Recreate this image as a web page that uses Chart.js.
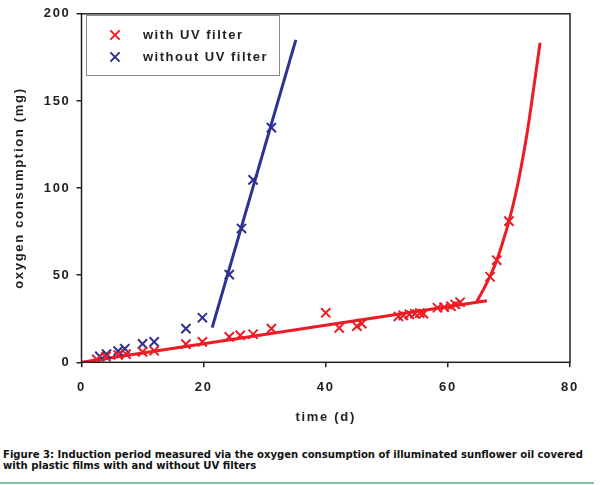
<!DOCTYPE html>
<html>
<head>
<meta charset="utf-8">
<script src="https://cdn.jsdelivr.net/npm/chart.js@4.4.0/dist/chart.umd.min.js"></script>
<style>
html,body{margin:0;padding:0;background:#fff;width:600px;height:485px;overflow:hidden;}
#wrap{position:absolute;left:0;top:0;width:600px;height:432px;}
#cap{position:absolute;left:3px;top:449px;width:597px;font-family:"DejaVu Sans Condensed","DejaVu Sans",sans-serif;font-stretch:condensed;font-weight:bold;font-size:11.2px;line-height:11px;color:#111;white-space:nowrap;}
#rule{position:absolute;left:0;top:482px;width:594px;height:2px;background:#7cc5a0;}
</style>
</head>
<body>
<div id="wrap"><canvas id="c"></canvas></div>
<div id="cap">
<div>Figure 3: Induction period measured via the oxygen consumption of illuminated sunflower oil covered</div>
<div>with plastic films with and without UV filters</div>
</div>
<div id="rule"></div>
<script>
// ---- data ----
const withUV_x = [2.5,4.0,6.0,7.3,10.0,11.9,17.1,19.8,24.2,26.0,28.1,31.1,40.0,42.2,45.1,45.9,51.9,52.7,53.7,54.6,55.4,56.0,58.3,59.4,60.5,61.2,62.0,66.9,68.0,70.0];
const withUV_y = [1.7,3.2,4.2,4.7,6.0,6.6,10.4,11.7,14.6,15.5,16.1,19.3,28.4,19.7,20.7,22.2,26.3,26.9,27.5,27.9,28.2,27.9,31.3,31.6,32.2,33.2,34.5,49.1,58.6,81.0];
const withoutUV_x = [3.0,4.1,6.0,7.1,10.0,11.9,17.1,19.8,24.2,26.2,28.1,31.1];
const withoutUV_y = [3.4,4.7,6.4,7.8,10.6,11.7,19.3,25.6,50.3,76.8,104.7,134.7];
const redLine_x = [0, 66.4];
const redLine_y = [0, 35.3];
const redCurve_x = [64.7,66,67,68,69,70,71,72,73,74,75.1];
const redCurve_y = [34.5,43,50,58.5,69,81,95,112,132,156,183.4];
const blueLine_x = [21.4, 35.1];
const blueLine_y = [19.9, 185];
const legendLabels = ['with UV filter', 'without UV filter'];
const xTitle = 'time (d)';
const yTitle = 'oxygen consumption (mg)';

const RED = '#ed1c24', BLUE = '#2e3192';
const zip = (xs, ys) => xs.map((x, i) => ({x: x, y: ys[i]}));
const FONT = '"Liberation Sans", Arial, sans-serif';

const spacing = {
  id: 'spacing',
  beforeLayout(chart) { chart.ctx.letterSpacing = '1.7px'; },
  beforeDraw(chart) { chart.ctx.letterSpacing = '1.7px'; }
};

const frameAndLegend = {
  id: 'frameAndLegend',
  afterDraw(chart) {
    const ctx = chart.ctx, a = chart.chartArea;
    ctx.save();
    ctx.strokeStyle = '#222';
    ctx.lineWidth = 1.5;
    ctx.strokeRect(a.left, a.top, a.right - a.left, a.bottom - a.top);
    // legend box
    ctx.fillStyle = '#fff';
    ctx.fillRect(87, 15, 193, 60);
    ctx.strokeStyle = '#8a8a8a';
    ctx.lineWidth = 1;
    ctx.strokeRect(86.5, 15.5, 193, 60);
    const cols = [RED, BLUE];
    const ys = [35, 57];
    ctx.letterSpacing = '1.5px';
    ctx.font = 'bold 13px ' + FONT;
    ctx.textBaseline = 'middle';
    ctx.textAlign = 'left';
    for (let i = 0; i < 2; i++) {
      ctx.strokeStyle = cols[i];
      ctx.fillStyle = cols[i];
      ctx.lineWidth = 2;
      Chart.helpers.drawPoint(ctx, {pointStyle: 'crossRot', radius: 6.5, borderWidth: 2, rotation: 0}, 115, ys[i]);
      ctx.fillStyle = '#222';
      ctx.fillText(legendLabels[i], 143, ys[i] + 0.5);
    }
    ctx.restore();
  }
};

new Chart(document.getElementById('c'), {
  type: 'scatter',
  data: {
    datasets: [
      {label: legendLabels[0], data: zip(withUV_x, withUV_y), pointStyle: 'crossRot', pointRadius: 6.5, pointBorderWidth: 2, borderColor: RED, backgroundColor: RED, showLine: false, order: 1},
      {label: legendLabels[1], data: zip(withoutUV_x, withoutUV_y), pointStyle: 'crossRot', pointRadius: 6.5, pointBorderWidth: 2, borderColor: BLUE, backgroundColor: BLUE, showLine: false, order: 1},
      {label: 'fit1', data: zip(redLine_x, redLine_y), showLine: true, pointRadius: 0, borderColor: RED, borderWidth: 3, order: 2},
      {label: 'fit2', data: zip(redCurve_x, redCurve_y), showLine: true, pointRadius: 0, borderColor: RED, borderWidth: 3, cubicInterpolationMode: 'monotone', order: 2},
      {label: 'fit3', data: zip(blueLine_x, blueLine_y), showLine: true, pointRadius: 0, borderColor: BLUE, borderWidth: 3, order: 2}
    ]
  },
  options: {
    responsive: true,
    maintainAspectRatio: false,
    animation: false,
    layout: {padding: {left: 4, right: 30, top: 11, bottom: 7}},
    plugins: {legend: {display: false}, tooltip: {enabled: false}},
    scales: {
      x: {
        type: 'linear', min: 0, max: 80,
        ticks: {stepSize: 20, color: '#222', padding: 12, font: {family: FONT, size: 13, weight: 'bold'}},
        grid: {display: true, drawOnChartArea: false, drawTicks: true, tickLength: 5, color: '#222', lineWidth: 1.5},
        border: {display: false},
        title: {display: true, text: xTitle, color: '#222', padding: {top: 0, bottom: 0}, font: {family: FONT, size: 13, weight: 'bold'}},
        afterFit(s) { s.height = 62.7; }
      },
      y: {
        type: 'linear', min: 0, max: 200,
        ticks: {stepSize: 50, color: '#222', padding: 6, font: {family: FONT, size: 13, weight: 'bold'}},
        grid: {display: true, drawOnChartArea: false, drawTicks: true, tickLength: 5, color: '#222', lineWidth: 1.5},
        border: {display: false},
        title: {display: true, text: yTitle, color: '#222', padding: {top: 8, bottom: 0}, font: {family: FONT, size: 13, weight: 'bold'}},
        afterFit(s) { s.width = 77.5; }
      }
    }
  },
  plugins: [spacing, frameAndLegend]
});
</script>
</body>
</html>
